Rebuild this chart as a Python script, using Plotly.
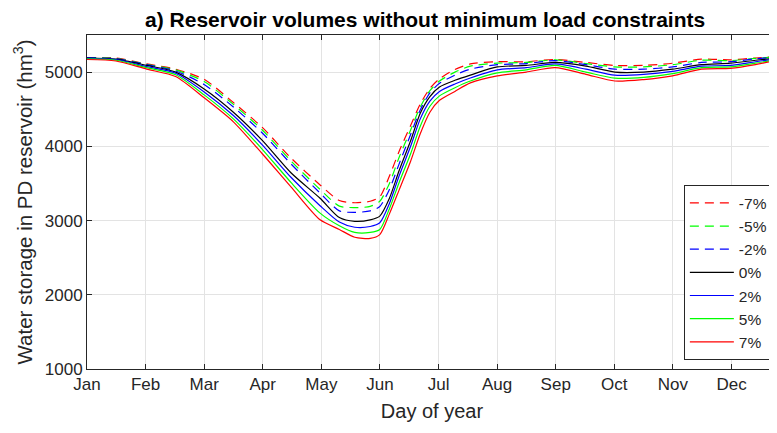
import plotly.graph_objects as go

# day of year (0 = 1 Jan), months drawn as equal 365/12 steps like the source
DAYS = [0, 15, 31, 46, 61, 76, 91, 106, 121, 131, 139, 147, 152, 157, 162, 168,
        173, 178, 183, 191, 199, 213, 228, 243, 259, 274, 289, 304, 319, 334, 347, 358]

VOL_M7 = [5195, 5190, 5110, 5040, 4900, 4590, 4255, 3840, 3480, 3270, 3240, 3260, 3320, 3600, 3930, 4280,
          4570, 4780, 4910, 5035, 5110, 5140, 5140, 5170, 5130, 5090, 5090, 5120, 5175, 5165, 5190, 5210]
VOL_M5 = [5195, 5185, 5105, 5030, 4870, 4565, 4220, 3800, 3420, 3195, 3175, 3190, 3260, 3500, 3850, 4220,
          4530, 4750, 4880, 5000, 5080, 5120, 5130, 5165, 5115, 5070, 5070, 5100, 5160, 5155, 5185, 5205]
VOL_M2 = [5195, 5180, 5100, 5015, 4830, 4530, 4180, 3760, 3370, 3130, 3110, 3130, 3190, 3420, 3760, 4160,
          4490, 4720, 4850, 4960, 5040, 5100, 5115, 5155, 5100, 5040, 5040, 5070, 5130, 5140, 5180, 5200]
VOL_0 = [5190, 5175, 5090, 5000, 4770, 4460, 4080, 3640, 3300, 3040, 2990, 3010, 3060, 3300, 3670, 4075,
         4445, 4670, 4800, 4890, 4960, 5070, 5090, 5130, 5080, 5000, 5000, 5040, 5100, 5120, 5160, 5190]
VOL_P2 = [5185, 5170, 5075, 4985, 4730, 4415, 4020, 3580, 3200, 2980, 2910, 2920, 2970, 3230, 3600, 4000,
          4370, 4610, 4740, 4840, 4920, 5030, 5060, 5110, 5040, 4960, 4970, 5010, 5080, 5090, 5140, 5180]
VOL_P5 = [5180, 5160, 5060, 4965, 4690, 4370, 3960, 3510, 3100, 2930, 2840, 2840, 2880, 3160, 3510, 3900,
          4270, 4540, 4680, 4790, 4880, 4990, 5030, 5090, 5000, 4920, 4930, 4980, 5060, 5070, 5120, 5170]
VOL_P7 = [5170, 5150, 5040, 4940, 4650, 4330, 3900, 3450, 3010, 2880, 2775, 2760, 2810, 3090, 3410, 3800,
          4170, 4460, 4620, 4740, 4855, 4950, 5000, 5060, 4970, 4880, 4900, 4950, 5040, 5050, 5100, 5160]

MONTHS = ["Jan", "Feb", "Mar", "Apr", "May", "Jun", "Jul", "Aug", "Sep", "Oct", "Nov", "Dec"]

SERIES = [
    ("-7%", VOL_M7, "#ff0000", "9px,6px"),
    ("-5%", VOL_M5, "#00ff00", "9px,6px"),
    ("-2%", VOL_M2, "#0000ff", "9px,6px"),
    ("0%", VOL_0, "#000000", "solid"),
    ("2%", VOL_P2, "#0000ff", "solid"),
    ("5%", VOL_P5, "#00ff00", "solid"),
    ("7%", VOL_P7, "#ff0000", "solid"),
]

fig = go.Figure()
for name, vals, color, dash in SERIES:
    fig.add_trace(go.Scatter(
        x=DAYS, y=vals, mode="lines", name=name, legendgroup=name,
        line=dict(color=color, width=1.2, dash=dash, shape="spline", smoothing=0.7),
    ))

# page body has an 8px default margin, so the figure is sized to end at the window edge
axis_col = "#262626"
fig.update_layout(
    width=769, height=425,
    margin=dict(l=79, r=0, t=27, b=64, autoexpand=False),
    paper_bgcolor="white", plot_bgcolor="white",
    font=dict(family="Liberation Sans, Arial, sans-serif", size=17, color="#262626"),
    title=dict(text="<b>a) Reservoir volumes without minimum load constraints</b>",
               x=0.49, xref="paper", y=0.99, yanchor="top", font=dict(size=21, color="#000000")),
    showlegend=True,
    legend=dict(x=0.994, y=0.026, xanchor="right", yanchor="bottom",
                bgcolor="white", bordercolor=axis_col, borderwidth=1,
                font=dict(size=15.5, color="#262626"), tracegroupgap=0,
                traceorder="grouped", itemwidth=44),
)

fig.update_xaxes(
    range=[0, 358.2], automargin=False,
    tickvals=[i * 365 / 12 for i in range(12)], ticktext=MONTHS,
    ticks="inside", ticklen=5, tickcolor=axis_col, mirror="ticks",
    showline=True, linecolor=axis_col, linewidth=1,
    showgrid=True, gridcolor="#e3e3e3", zeroline=False,
    title=dict(text="Day of year", font=dict(size=20), standoff=10),
)
fig.update_yaxes(
    range=[1000, 5500], automargin=False,
    tickvals=[1000, 2000, 3000, 4000, 5000],
    ticks="inside", ticklen=5, tickcolor=axis_col, mirror="ticks",
    showline=True, linecolor=axis_col, linewidth=1,
    showgrid=True, gridcolor="#e3e3e3", zeroline=False,
    title=dict(text="Water storage in PD reservoir (hm<sup>3</sup>)", font=dict(size=20.5), standoff=6),
)

fig.write_html("out.html")
